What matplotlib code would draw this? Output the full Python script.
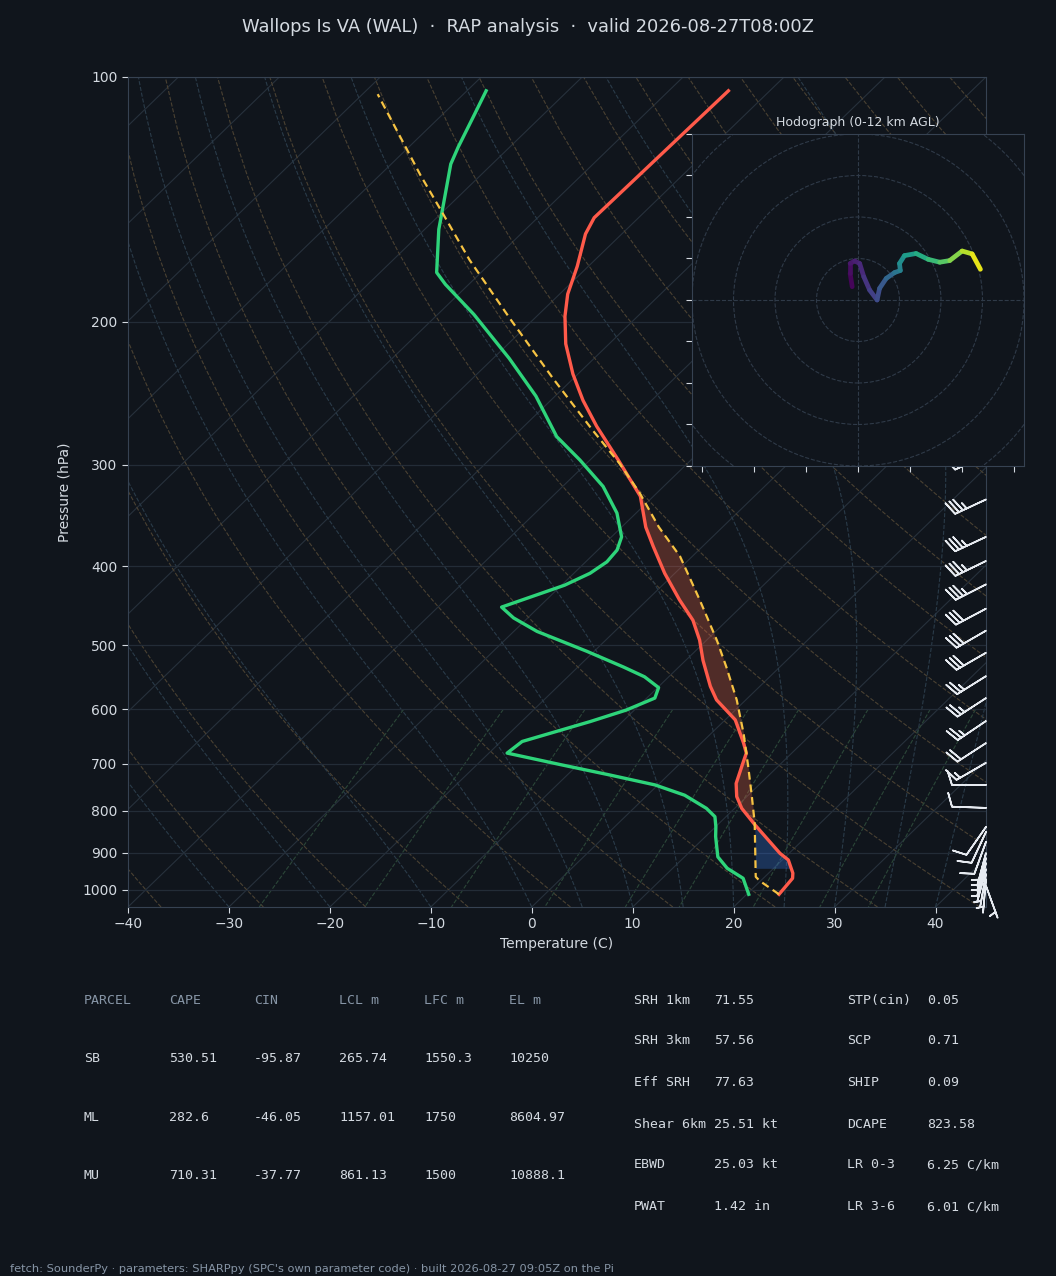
import numpy as np
import matplotlib
matplotlib.use('Agg')
import matplotlib.pyplot as plt
import matplotlib.transforms as mtransforms
from matplotlib.collections import LineCollection
from matplotlib.patches import Circle
from matplotlib.ticker import NullLocator

BG = '#10151c'
FG = '#d4dae1'
MUTED = '#8795a6'
GRID = '#232c37'
SPINE = '#364252'

# ---- sounding (hPa, degC) ----
temp_p = [1013, 968, 954, 919, 902, 832, 794, 768, 740, 699, 679, 660, 618, 584, 562, 522,
          493, 466, 440, 408, 378, 358, 328, 296, 269, 250, 232, 213, 197, 185, 171, 156, 149, 104]
temp_c = [23.2, 22.9, 22.4, 20.6, 19.1, 13.7, 10.7, 9.0, 7.6, 6.2, 5.5, 4.2, 1.0, -2.9, -4.9, -8.3,
          -10.7, -13.4, -16.8, -21.0, -24.9, -27.6, -31.3, -37.2, -42.8, -46.8, -50.5, -54.3, -57.2,
          -59.2, -61.1, -63.6, -64.4, -64.1]

dew_p = [1013, 968, 941, 911, 860, 836, 813, 794, 765, 743, 722, 702, 679, 657, 621, 601, 581,
         564, 547, 532, 509, 481, 463, 449, 422, 408, 395, 382, 368, 344, 319, 296, 277, 247,
         222, 196, 180, 174, 154, 143, 128, 122, 112, 104]
dew_c = [20.2, 18.0, 15.4, 13.3, 11.0, 10.0, 8.9, 7.2, 3.7, -0.3, -5.9, -11.6, -18.2, -17.9,
         -13.2, -10.8, -9.2, -9.9, -12.4, -15.5, -20.7, -27.7, -31.4, -33.7, -29.7, -28.4, -27.9,
         -28.1, -29.0, -31.9, -36.0, -41.0, -45.7, -51.9, -58.4, -66.4, -72.3, -74.4, -78.6,
         -80.8, -84.1, -85.1, -86.7, -88.1]

parcel_p = [1013, 975, 964, 828, 768, 706, 642, 584, 532, 493, 440, 389, 358, 325, 299, 272,
            235, 198, 168, 146, 132, 105]
parcel_c = [23.2, 19.9, 19.1, 13.5, 10.5, 7.1, 3.2, -0.9, -5.3, -9.0, -14.8, -21.2, -26.3,
            -31.7, -36.7, -42.8, -52.0, -62.5, -72.4, -80.3, -86.0, -98.5]

# wind barbs (hPa, direction deg, speed kt)
barb_p = [230, 260, 292, 331, 368, 394, 421, 451, 480, 511, 546, 581, 620, 660, 698, 743, 793,
          837, 849, 873, 901, 914, 927, 943, 956, 970, 989]
barb_dir = [245, 245, 245, 245, 245, 244, 243, 242, 240, 240, 238, 237, 236, 237, 240, 270, 272,
            215, 205, 200, 195, 195, 195, 195, 190, 185, 160]
barb_spd = [35, 35, 35, 35, 35, 35, 35, 30, 30, 30, 25, 25, 25, 20, 15, 10, 10,
            10, 10, 10, 5, 5, 5, 5, 5, 5, 5]

# hodograph (kt) and height (km AGL)
hodo_u = [-1.4, -1.9, -1.9, -0.8, 0.4, 1.4, 2.8, 4.6, 5.2, 6.8, 8.8, 10.2, 10.0, 11.2, 14.0,
          16.9, 19.7, 22.1, 25.1, 27.5, 29.5]
hodo_v = [3.2, 6.4, 8.8, 9.4, 8.8, 5.6, 2.4, 0.0, 2.8, 5.2, 6.6, 7.1, 8.8, 10.7, 11.2,
          9.8, 9.1, 9.5, 11.8, 11.1, 7.4]
hodo_z = [0, 0.3, 0.6, 0.9, 1.2, 1.6, 2.0, 2.5, 3.0, 3.6, 4.3, 5.0, 5.6, 6.2, 7.0,
          7.8, 8.5, 9.3, 10.2, 11.1, 12.0]

# parameter tables
parcel_cols = ['PARCEL', 'CAPE', 'CIN', 'LCL m', 'LFC m', 'EL m']
parcel_rows = [['SB', '530.51', '-95.87', '265.74', '1550.3', '10250'],
               ['ML', '282.6', '-46.05', '1157.01', '1750', '8604.97'],
               ['MU', '710.31', '-37.77', '861.13', '1500', '10888.1']]
idx_left = [('SRH 1km', '71.55'), ('SRH 3km', '57.56'), ('Eff SRH', '77.63'),
            ('Shear 6km', '25.51 kt'), ('EBWD', '25.03 kt'), ('PWAT', '1.42 in')]
idx_right = [('STP(cin)', '0.05'), ('SCP', '0.71'), ('SHIP', '0.09'),
             ('DCAPE', '823.58'), ('LR 0-3', '6.25 C/km'), ('LR 3-6', '6.01 C/km')]

P_BOT, P_TOP = 1050, 100
T_MIN, T_MAX = -40, 45

fig = plt.figure(figsize=(10.56, 12.76), dpi=100, facecolor=BG)
ax = fig.add_axes([0.1212, 0.2892, 0.8125, 0.6505], facecolor=BG)
ax.set_yscale('log')
ax.set_xlim(T_MIN, T_MAX)
ax.set_ylim(P_BOT, P_TOP)
ax.set_autoscale_on(False)

# skew-T: 45 degree shear in axes coordinates
skew = ax.transScale + ax.transLimits + mtransforms.Affine2D().skew_deg(45, 0) + ax.transAxes

# isotherms
for t in range(-140, 50, 10):
    ax.plot([t, t], [P_BOT, P_TOP], transform=skew, color='#27313c', lw=0.8, zorder=1)

# dry adiabats
p_lines = np.linspace(P_BOT, P_TOP, 60)
for th in range(-40, 250, 10):
    t = (th + 273.15) * (p_lines / 1000.0) ** 0.2857 - 273.15
    ax.plot(t, p_lines, transform=skew, color='#4a4132', lw=0.8, ls='--', zorder=1)

# moist adiabats (RK4 integration of the pseudo-adiabatic lapse rate)
Rd, Lv, Cp, eps = 287.04749, 2.50084e6, 1004.666, 0.6219569


def dtdp(p, t):
    tc = t - 273.15
    es = 6.112 * np.exp(17.67 * tc / (tc + 243.5))
    rs = eps * es / (p - es)
    return (Rd * t + Lv * rs) / (Cp + Lv * Lv * rs * eps / (Rd * t * t)) / p


t0 = np.concatenate((np.arange(T_MIN, 0, 10), np.arange(0, T_MAX + 1, 5))) + 273.15
p_m = np.linspace(P_BOT, P_TOP, 200)
tm = [t0]
t = t0.copy()
for pa, pb in zip(p_m[:-1], p_m[1:]):
    h = pb - pa
    k1 = dtdp(pa, t)
    k2 = dtdp(pa + h / 2, t + h / 2 * k1)
    k3 = dtdp(pa + h / 2, t + h / 2 * k2)
    k4 = dtdp(pb, t + h * k3)
    t = t + h / 6 * (k1 + 2 * k2 + 2 * k3 + k4)
    tm.append(t)
tm = np.array(tm) - 273.15
for i in range(tm.shape[1]):
    ax.plot(tm[:, i], p_m, transform=skew, color='#2a3b49', lw=0.8, ls='--', zorder=1)

# mixing ratio lines
p_mix = np.linspace(600, P_BOT, 30)
for w in [0.0004, 0.001, 0.002, 0.004, 0.007, 0.01, 0.016, 0.024, 0.032]:
    e = p_mix * w / (0.6219569 + w)
    le = np.log(e / 6.112)
    td = 243.5 * le / (17.67 - le)
    ax.plot(td, p_mix, transform=skew, color='#2b4638', lw=0.8, ls='--', zorder=1)

# CAPE / CIN shading
lp = lambda a: np.log(np.asarray(a, dtype=float))
def on_grid(grid, p, v):
    return np.interp(lp(grid), lp(p)[::-1], np.asarray(v)[::-1])

g_cape = np.geomspace(840, 290, 300)
ax.fill_betweenx(g_cape, on_grid(g_cape, temp_p, temp_c), on_grid(g_cape, parcel_p, parcel_c),
                 where=on_grid(g_cape, parcel_p, parcel_c) > on_grid(g_cape, temp_p, temp_c),
                 interpolate=True, transform=skew, color='#ff6b4a', alpha=0.27, lw=0, zorder=2)
g_cin = np.geomspace(941, 820, 120)
ax.fill_betweenx(g_cin, on_grid(g_cin, temp_p, temp_c), on_grid(g_cin, parcel_p, parcel_c),
                 where=on_grid(g_cin, parcel_p, parcel_c) < on_grid(g_cin, temp_p, temp_c),
                 interpolate=True, transform=skew, color='#3b82f6', alpha=0.28, lw=0, zorder=2)

ax.plot(temp_c, temp_p, transform=skew, color='#ff5a4a', lw=2.4, zorder=4)
ax.plot(dew_c, dew_p, transform=skew, color='#2ed47a', lw=2.4, zorder=4)
ax.plot(parcel_c, parcel_p, transform=skew, color='#f6c343', lw=1.6, ls=(0, (3.5, 2.2)), zorder=5)

# wind barbs along the right edge
spd = np.array(barb_spd, dtype=float)
rad = np.deg2rad(barb_dir)
bu = -spd * np.sin(rad)
bv = -spd * np.cos(rad)
blend = mtransforms.blended_transform_factory(ax.transAxes, ax.transData)
ax.barbs(np.ones(len(barb_p)), barb_p, bu, bv, transform=blend, clip_on=False,
         length=7, color='#e6eaf0', linewidth=1.2, zorder=6)

ax.set_xlim(T_MIN, T_MAX)
ax.set_ylim(P_BOT, P_TOP)
ax.set_xticks(range(-40, 41, 10))
ax.set_yticks(range(100, 1001, 100))
ax.set_yticklabels([str(v) for v in range(100, 1001, 100)])
ax.yaxis.set_minor_locator(NullLocator())
ax.yaxis.grid(True, color=GRID, lw=0.9)
ax.tick_params(colors=FG, labelsize=10, length=4, color=FG)
for s in ax.spines.values():
    s.set_color(SPINE)
ax.set_xlabel('Temperature (C)', color=FG, fontsize=10)
ax.set_ylabel('Pressure (hPa)', color=FG, fontsize=10, labelpad=8)

fig.text(0.5, 0.9788, 'Wallops Is VA (WAL)  \u00b7  RAP analysis  \u00b7  valid 2026-08-27T08:00Z',
         ha='center', va='center', color=FG, fontsize=12.9)

# hodograph inset
hx = fig.add_axes([0.6553, 0.6348, 0.3144, 0.2602], facecolor=BG)
hx.set_xlim(-40, 40)
hx.set_ylim(-40, 40)
for r in range(10, 90, 10):
    hx.add_patch(Circle((0, 0), r, fill=False, ls='--', lw=0.8, color='#2f3a48'))
hx.axhline(0, color='#2f3a48', ls='--', lw=0.8)
hx.axvline(0, color='#2f3a48', ls='--', lw=0.8)
pts = np.column_stack([hodo_u, hodo_v])
segs = np.stack([pts[:-1], pts[1:]], axis=1)
zmid = (np.array(hodo_z[:-1]) + np.array(hodo_z[1:])) / 2
lc = LineCollection(segs, cmap='viridis', linewidths=3.4, capstyle='round', joinstyle='round')
lc.set_array(zmid)
lc.set_clim(0, 12)
hx.add_collection(lc)
hx.set_xticks([-37.5, -25, -12.5, 0, 12.5, 25, 37.5])
hx.set_yticks(range(-40, 41, 10))
hx.tick_params(labelbottom=False, labelleft=False, color=FG, length=4)
for s in hx.spines.values():
    s.set_color(SPINE)
hx.set_title('Hodograph (0-12 km AGL)', color=FG, fontsize=9, pad=6)

# parameter tables
mono = 'DejaVu Sans Mono'
col_x = [0.0795, 0.1600, 0.2405, 0.3210, 0.4015, 0.4820]
row_y = [0.2163, 0.1708, 0.1246, 0.0784]
for x, h in zip(col_x, parcel_cols):
    fig.text(x, row_y[0], h, family=mono, fontsize=9.5, color=MUTED, va='center')
for y, row in zip(row_y[1:], parcel_rows):
    for x, val in zip(col_x, row):
        fig.text(x, y, val, family=mono, fontsize=9.5, color=FG, va='center')

rt_y = [0.2163, 0.1842, 0.1513, 0.1191, 0.0870, 0.0541]
for y, (k1, v1), (k2, v2) in zip(rt_y, idx_left, idx_right):
    fig.text(0.6004, y, k1, family=mono, fontsize=9.5, color=FG, va='center')
    fig.text(0.6761, y, v1, family=mono, fontsize=9.5, color=FG, va='center')
    fig.text(0.8021, y, k2, family=mono, fontsize=9.5, color=FG, va='center')
    fig.text(0.8778, y, v2, family=mono, fontsize=9.5, color=FG, va='center')

fig.text(0.0095, 0.0055, "fetch: SounderPy \u00b7 parameters: SHARPpy (SPC's own parameter code) "
         "\u00b7 built 2026-08-27 09:05Z on the Pi", color=MUTED, fontsize=8.2, va='center')

fig.savefig('out.png', dpi=100, facecolor=BG)
